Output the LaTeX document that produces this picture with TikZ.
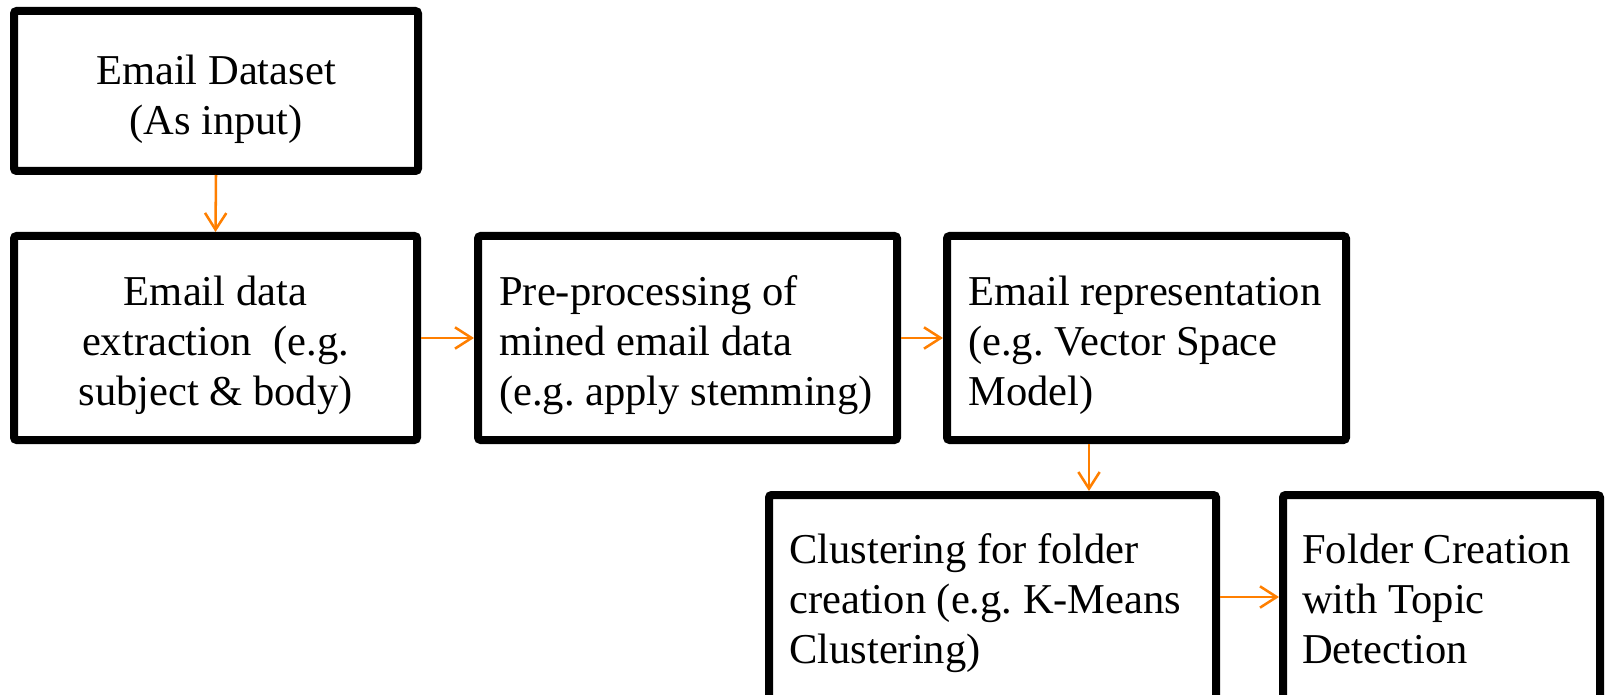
\documentclass[tikz,border=0pt]{standalone}
\usepackage{fontspec}
\setmainfont{Liberation Serif}
\usetikzlibrary{arrows.meta}
\definecolor{arrorange}{RGB}{255,127,0}
\hyphenpenalty=10000
\exhyphenpenalty=10000
\frenchspacing
\begin{document}
\begin{tikzpicture}[x=0.75pt,y=-0.75pt,
  box/.style={draw=black,line width=6pt,rounded corners=2pt,fill=white,
    inner sep=0pt},
  txt/.style={inner sep=0pt,font=\fontsize{31.9}{37.5}\selectfont},
  flow/.style={draw=arrorange,line width=1.9pt,
    -{Straight Barb[length=12.5pt,width=16pt,line width=1.9pt]}}]
\useasboundingbox (0,0) rectangle (1606,695);
\clip (0,0) rectangle (1606,695);
% boxes
\node[box,minimum width=404*0.75pt,minimum height=160*0.75pt] (b1) at (216,91) {};
\node[box,minimum width=403*0.75pt,minimum height=204*0.75pt] (b2) at (215.5,338) {};
\node[box,minimum width=419*0.75pt,minimum height=204*0.75pt] (b3) at (687.5,338) {};
\node[box,minimum width=399*0.75pt,minimum height=204*0.75pt] (b4) at (1146.5,338) {};
\node[box,minimum width=447*0.75pt,minimum height=204*0.75pt] (b5) at (992.5,597) {};
\node[box,minimum width=317*0.75pt,minimum height=204*0.75pt] (b6) at (1441.5,597) {};
% texts
\node[txt,align=center] (t1) at (216,99)
  {Email Dataset\\(As input)};
\node[txt,align=center] (t2) at (215.5,345)
  {Email data\\extraction\ \ (e.g.\\subject \& body)};
\node[txt,align=left,anchor=west] (t3) at (499,345)
  {Pre-processing of\\mined email data\\(e.g. apply stemming)};
\node[txt,align=left,anchor=west] (t4) at (968,345)
  {Email representation\\(e.g. Vector Space\\Model)};
\node[txt,align=left,anchor=west] (t5) at (789,603)
  {Clustering for folder\\creation (e.g. K-Means\\Clustering)};
\node[txt,align=left,anchor=west] (t6) at (1302,599)
  {Folder Creation\\with Topic\\Detection};
% connectors
\coordinate (c4) at (1089,0);
\draw[flow] (b1.south) -- (b2.north);
\draw[flow] (b2.east) -- (b3.west);
\draw[flow] (b3.east) -- (b4.west);
\draw[flow] (b4.south -| c4) -- (b5.north -| c4);
\draw[flow] (b5.east) -- (b6.west);
\end{tikzpicture}
\end{document}
